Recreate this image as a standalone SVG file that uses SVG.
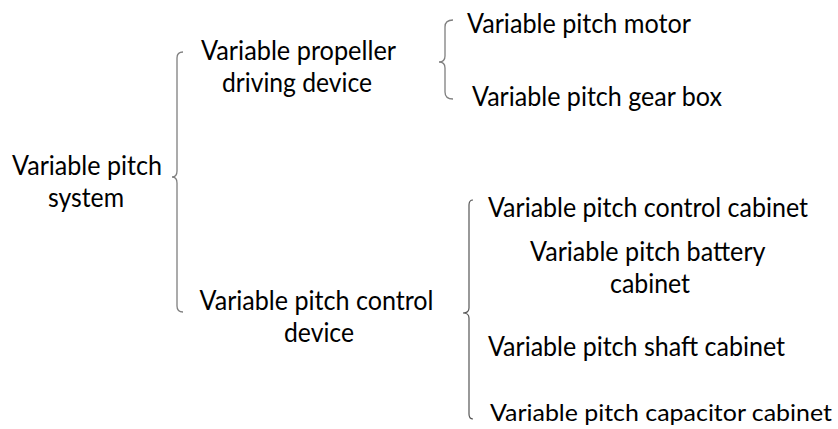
<svg xmlns="http://www.w3.org/2000/svg" width="838" height="429" viewBox="0 0 838 429">
<style>
text{font-family:"Lato","Liberation Sans",sans-serif;font-size:26px;fill:#000}
.br{fill:none;stroke:#7f7f7f;stroke-width:1.3}
.br2{fill:none;stroke:#555;stroke-width:1.2}
</style>
<rect width="838" height="429" fill="#fff"/>
<g id="connectors">
<path class="br" d="M183,52 Q177,52 177,58 L177,171 Q177,177 172,177 Q177,177 177,183 L177,306 Q177,312 183,312"/>
<path class="br" d="M453,20 Q445,20 445,27 L445,56 Q445,62 439,62 Q445,62 445,68 L445,92 Q445,99 453,99"/>
<path class="br2" d="M473,200 Q469,200 469,205 L469,308 Q469,313 463,313 Q469,313 469,318 L469,414 Q469,419 473,419"/>
</g>
<g id="n-system">
<text x="12" y="175" textLength="150" lengthAdjust="spacingAndGlyphs">Variable pitch</text>
<text x="48" y="207" textLength="76" lengthAdjust="spacingAndGlyphs">system</text>
</g>
<g id="n-driving">
<text x="201" y="59.5" textLength="195" lengthAdjust="spacingAndGlyphs">Variable propeller</text>
<text x="222" y="92" textLength="150" lengthAdjust="spacingAndGlyphs">driving device</text>
</g>
<g id="n-control">
<text x="199.5" y="309.5" textLength="234" lengthAdjust="spacingAndGlyphs">Variable pitch control</text>
<text x="284" y="342" textLength="70" lengthAdjust="spacingAndGlyphs">device</text>
</g>
<g id="n-motor">
<text x="467" y="33" textLength="224" lengthAdjust="spacingAndGlyphs">Variable pitch motor</text>
</g>
<g id="n-gearbox">
<text x="472" y="105.5" textLength="250" lengthAdjust="spacingAndGlyphs">Variable pitch gear box</text>
</g>
<g id="n-controlcab">
<text x="488" y="217" textLength="320" lengthAdjust="spacingAndGlyphs">Variable pitch control cabinet</text>
</g>
<g id="n-battery">
<text x="530" y="260.5" textLength="235.5" lengthAdjust="spacingAndGlyphs">Variable pitch battery</text>
<text x="610" y="293" textLength="80" lengthAdjust="spacingAndGlyphs">cabinet</text>
</g>
<g id="n-shaft">
<text x="488" y="355.5" textLength="297" lengthAdjust="spacingAndGlyphs">Variable pitch shaft cabinet</text>
</g>
<g id="n-capacitor">
<text x="490" y="420.5" style="font-size:24px" textLength="342" lengthAdjust="spacingAndGlyphs">Variable pitch capacitor cabinet</text>
</g>
</svg>
